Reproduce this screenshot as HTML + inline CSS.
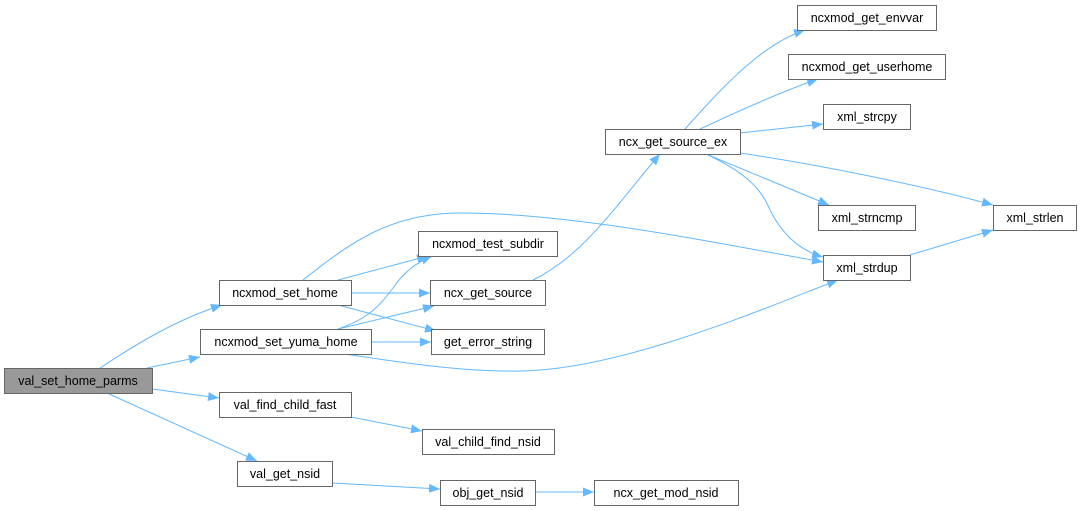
<!DOCTYPE html>
<html><head><meta charset="utf-8"><style>
html,body{margin:0;padding:0;background:#fff;}
svg{display:block;}
text{font-family:"Liberation Sans",Arial,sans-serif;font-size:12.5px;fill:#000;}
rect{fill:#fff;stroke:#666;stroke-width:1;}
path{fill:none;stroke:#63b8ff;stroke-width:1;}
</style></head><body>
<svg width="1081" height="511" viewBox="0 0 1081 511" xmlns="http://www.w3.org/2000/svg">
<defs><marker id="a" markerWidth="11" markerHeight="9" refX="11" refY="4.5" orient="auto" markerUnits="userSpaceOnUse"><polygon points="0,0 11,4.5 0,9" fill="#63b8ff"/></marker></defs>
<g marker-end="url(#a)">
<path d="M100,368 C135,345 175,320 222,305"/>
<path d="M147,368 L200,357"/>
<path d="M152,389 L219,398"/>
<path d="M107,393 L257,461"/>
<path d="M338,280 L428,256"/>
<path d="M351,293 L430,293"/>
<path d="M338,305 L436,331"/>
<path d="M303,280 C350,243 390,213 460,213 C570,213 700,240 823,262"/>
<path d="M338,329 C370,318 380,305 393,288 C405,270 420,261 432,256"/>
<path d="M338,329 L434,306"/>
<path d="M371,342 L431,342"/>
<path d="M344,354 C400,362 460,372 520,371 C620,370 760,310 838,280"/>
<path d="M351,417 L422,431"/>
<path d="M332,483 L440,489"/>
<path d="M535,492 L594,492"/>
<path d="M533,280 C585,255 620,200 660,154"/>
<path d="M685,129 C720,90 760,45 805,30"/>
<path d="M700,129 C730,115 780,92 818,79"/>
<path d="M740,133 L823,124"/>
<path d="M740,153 C820,165 920,185 993,205"/>
<path d="M706,154 L829,205"/>
<path d="M706,154 C740,170 760,185 770,210 C785,240 805,252 823,257"/>
<path d="M910,255 L993,230"/>
</g>
<rect x="4.5" y="368.5" width="148" height="25" style="fill:#999"/><text x="78" y="385" text-anchor="middle">val_set_home_parms</text>
<rect x="219.5" y="280.5" width="132" height="25"/><text x="285" y="297" text-anchor="middle">ncxmod_set_home</text>
<rect x="200.5" y="329.5" width="171" height="25"/><text x="286" y="346" text-anchor="middle">ncxmod_set_yuma_home</text>
<rect x="219.5" y="392.5" width="132" height="25"/><text x="285" y="409" text-anchor="middle">val_find_child_fast</text>
<rect x="237.5" y="461.5" width="95" height="25"/><text x="285" y="478" text-anchor="middle">val_get_nsid</text>
<rect x="418.5" y="231.5" width="139" height="25"/><text x="488" y="248" text-anchor="middle">ncxmod_test_subdir</text>
<rect x="430.5" y="280.5" width="115" height="25"/><text x="488" y="297" text-anchor="middle">ncx_get_source</text>
<rect x="431.5" y="329.5" width="113" height="25"/><text x="488" y="346" text-anchor="middle">get_error_string</text>
<rect x="422.5" y="429.5" width="132" height="25"/><text x="488" y="446" text-anchor="middle">val_child_find_nsid</text>
<rect x="440.5" y="480.5" width="95" height="25"/><text x="488" y="497" text-anchor="middle">obj_get_nsid</text>
<rect x="594.5" y="480.5" width="144" height="25"/><text x="666" y="497" text-anchor="middle">ncx_get_mod_nsid</text>
<rect x="605.5" y="129.5" width="135" height="25"/><text x="673" y="146" text-anchor="middle">ncx_get_source_ex</text>
<rect x="797.5" y="5.5" width="139" height="25"/><text x="867" y="22" text-anchor="middle">ncxmod_get_envvar</text>
<rect x="788.5" y="54.5" width="157" height="25"/><text x="867" y="71" text-anchor="middle">ncxmod_get_userhome</text>
<rect x="823.5" y="104.5" width="87" height="25"/><text x="867" y="121" text-anchor="middle">xml_strcpy</text>
<rect x="818.5" y="205.5" width="97" height="25"/><text x="867" y="222" text-anchor="middle">xml_strncmp</text>
<rect x="823.5" y="255.5" width="87" height="25"/><text x="867" y="272" text-anchor="middle">xml_strdup</text>
<rect x="993.5" y="205.5" width="83" height="25"/><text x="1035" y="222" text-anchor="middle">xml_strlen</text>
</svg>
</body></html>
